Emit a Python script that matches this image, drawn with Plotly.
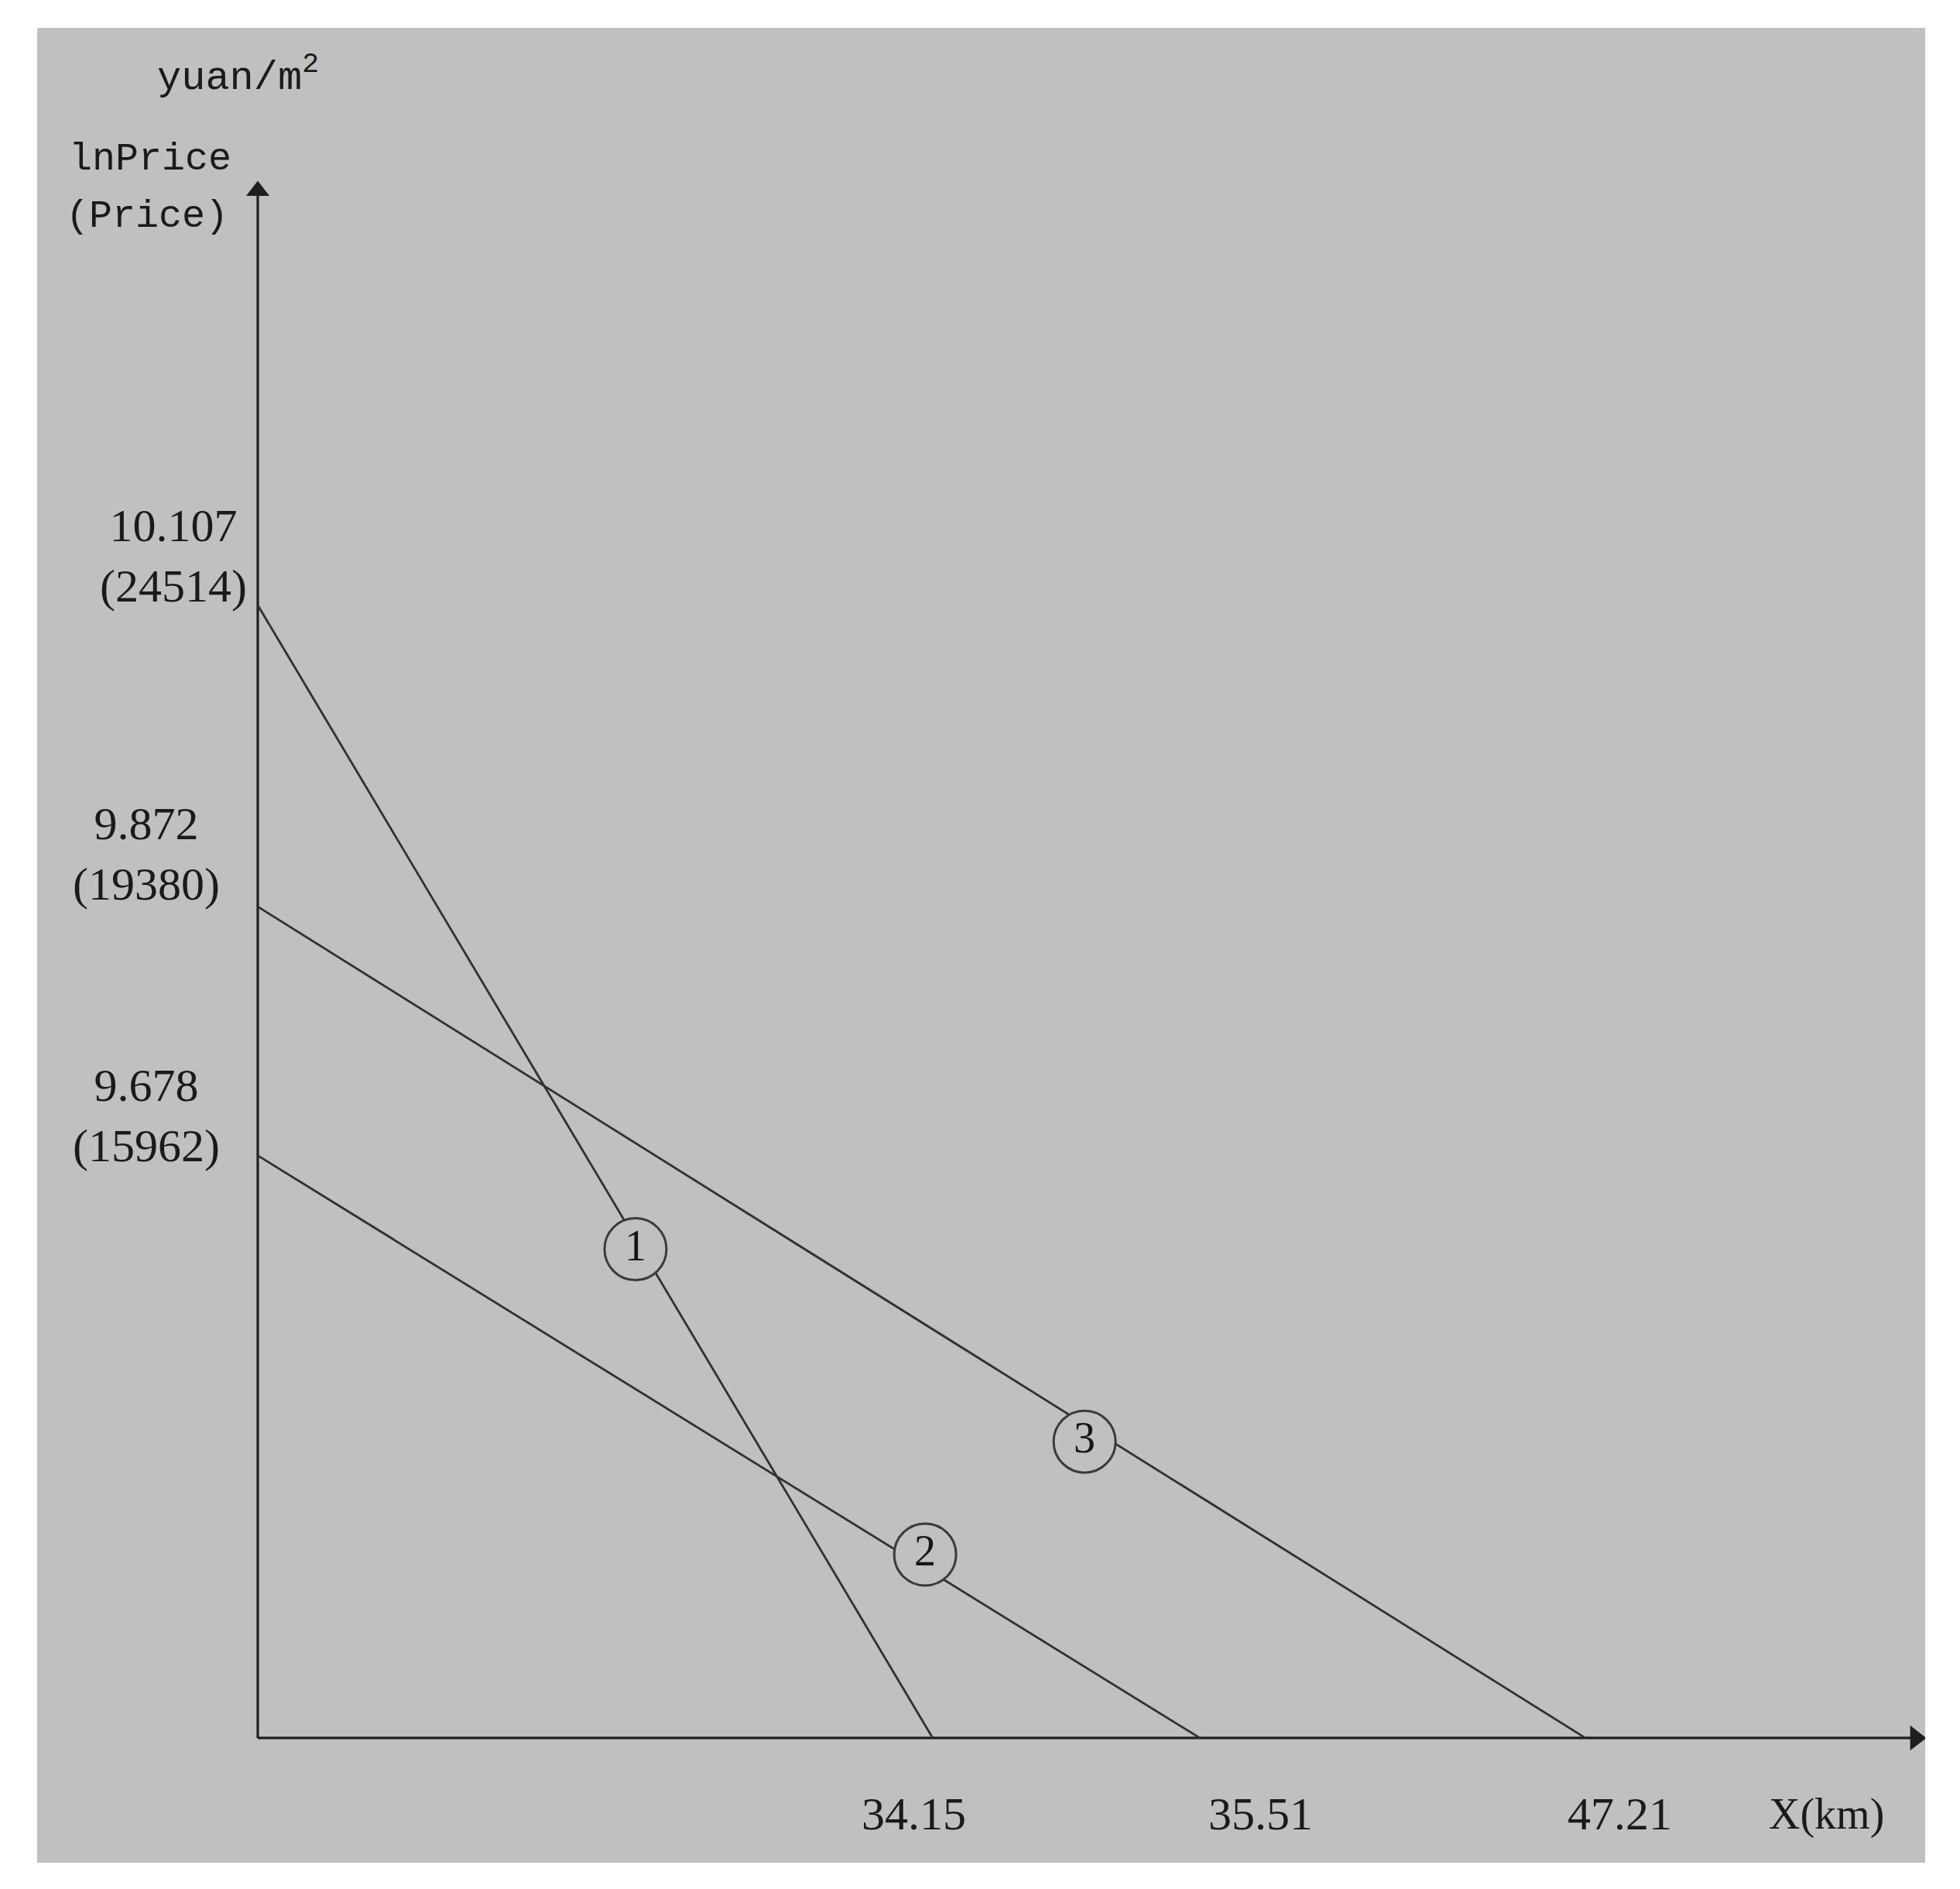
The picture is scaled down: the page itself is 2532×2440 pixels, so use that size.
import plotly.graph_objects as go

# ---------------- data ----------------
curve_ids = ["1", "2", "3"]
ln_price_intercept = [10.107, 9.678, 9.872]          # lnPrice at X = 0
price_intercept = [24514, 15962, 19380]              # Price (yuan/m2) at X = 0
x_intercept_label = [34.15, 35.51, 47.21]            # X(km) where each line meets the axis
x_intercept_drawn = [24.0, 33.5, 47.21]              # where the schematic draws that crossing
circle_x = [13.43, 23.73, 29.40]                     # circled-number markers (drawing units)
circle_y = [9.605, 9.367, 9.455]

# ---------------- drawing frame ----------------
W, H = 2532, 2440
L, R, T, B = 48, 2487, 36, 2406           # grey panel in page pixels
X_RANGE = [-7.845, 59.29]
Y_RANGE = [9.1268, 10.557]
Y_BASE = 9.224                            # lnPrice level where the X axis is drawn
X_TIP = 58.95
Y_TIP = 10.430

GREY = "#c0c0c0"
INK = "#1e1e1e"
LINE = "#303030"
SERIF = "Liberation Serif, Times New Roman, serif"
MONO = "Liberation Mono, Courier New, monospace"


def px_x(p):
    return X_RANGE[0] + (p - L) / (R - L) * (X_RANGE[1] - X_RANGE[0])


def px_y(p):
    return Y_RANGE[1] - (p - T) / (B - T) * (Y_RANGE[1] - Y_RANGE[0])


fig = go.Figure()

# axes
fig.add_trace(go.Scatter(x=[0, 0], y=[Y_BASE, Y_TIP], mode="lines",
                         line=dict(color=INK, width=3.2), hoverinfo="skip",
                         showlegend=False))
fig.add_trace(go.Scatter(x=[0, X_TIP], y=[Y_BASE, Y_BASE], mode="lines",
                         line=dict(color=INK, width=3.2), hoverinfo="skip",
                         showlegend=False))
fig.add_trace(go.Scatter(x=[0], y=[Y_TIP], mode="markers",
                         marker=dict(symbol="triangle-up", size=26, color=INK,
                                     line=dict(width=0)),
                         hoverinfo="skip", showlegend=False))
fig.add_trace(go.Scatter(x=[X_TIP], y=[Y_BASE], mode="markers",
                         marker=dict(symbol="triangle-right", size=28, color=INK,
                                     line=dict(width=0)),
                         hoverinfo="skip", showlegend=False))

# the three price-gradient lines
for i, cid in enumerate(curve_ids):
    fig.add_trace(go.Scatter(
        x=[0, x_intercept_drawn[i]],
        y=[ln_price_intercept[i], Y_BASE],
        mode="lines",
        line=dict(color=LINE, width=2.8),
        hoverinfo="skip",
        showlegend=False,
    ))

# circled curve numbers
fig.add_trace(go.Scatter(
    x=circle_x, y=circle_y,
    mode="markers+text",
    text=curve_ids,
    textposition="middle center",
    textfont=dict(family=SERIF, size=56, color="#151515"),
    marker=dict(size=80, color=GREY, line=dict(color="#3a3a3a", width=3)),
    hoverinfo="skip",
    showlegend=False,
))

annotations = []


def label(text, px, py, size, family=SERIF, xanchor="center"):
    annotations.append(dict(x=px_x(px), y=px_y(py), xref="x", yref="y",
                            text=text, showarrow=False, xanchor=xanchor,
                            yanchor="middle", align="center",
                            font=dict(family=family, size=size, color="#1a1a1a")))


# y-axis titles
label("yuan/m<sup>2</sup>", 307, 97, 52, MONO)
label("lnPrice", 194, 205, 50, MONO)
label("(Price)", 190, 279, 50, MONO)

# y-intercept labels
y_label_pos = [(224, 718), (189, 1441), (189, 1103)]
for i in range(3):
    px, py = y_label_pos[i]
    label(f"{ln_price_intercept[i]:.3f}<br>({price_intercept[i]})", px, py, 60)

# x-intercept labels
x_label_px = [1180, 1628, 2092]
for i in range(3):
    label(f"{x_intercept_label[i]:.2f}", x_label_px[i], 2343, 60)
label("X(km)", 2359, 2343, 56)

fig.update_layout(
    width=W, height=H,
    margin=dict(l=L, r=W - R, t=T, b=H - B, pad=0, autoexpand=False),
    paper_bgcolor="white",
    plot_bgcolor=GREY,
    xaxis=dict(range=X_RANGE, visible=False, fixedrange=True),
    yaxis=dict(range=Y_RANGE, visible=False, fixedrange=True),
    annotations=annotations,
    showlegend=False,
)

fig.write_html("out.html", post_script="document.body.style.margin='0';",
               config={"displayModeBar": False})
